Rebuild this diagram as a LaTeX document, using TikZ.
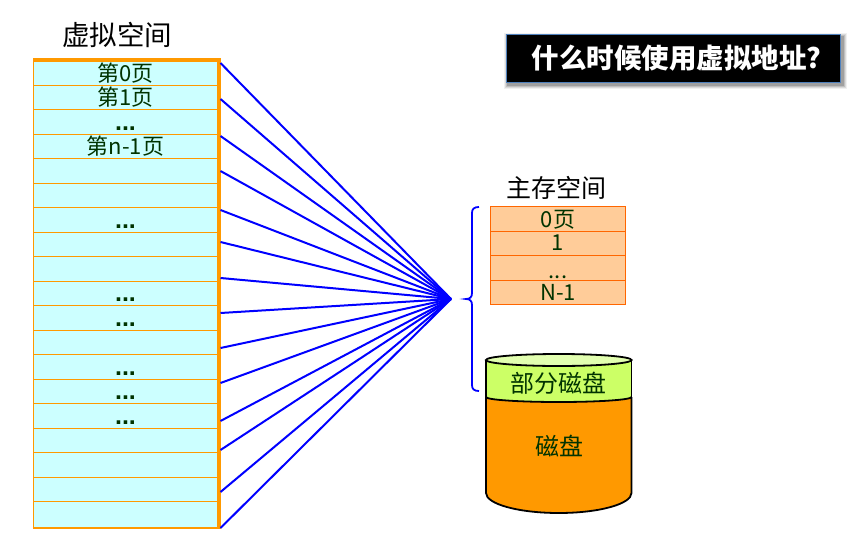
\documentclass[tikz,border=0pt]{standalone}
\usepackage{fontspec}
\usetikzlibrary{shapes.geometric}
\setmainfont{Noto Sans CJK SC}
\newfontfamily\dotfont{Liberation Sans}
\definecolor{rowfill}{HTML}{CCFFFF}
\definecolor{rowline}{HTML}{FF9900}
\definecolor{memfill}{HTML}{FFCC99}
\definecolor{memline}{HTML}{FF6600}
\definecolor{txtgreen}{HTML}{003300}
\definecolor{diskgreen}{HTML}{CCFF66}
\definecolor{disktopc}{HTML}{E2FFB0}
\definecolor{bannerline}{HTML}{4F81BD}
\tikzset{
  vrow/.style={draw=rowline,fill=rowfill,line width=1pt,inner sep=0pt},
  mrow/.style={draw=memline,fill=memfill,line width=1pt,inner sep=0pt},
  lab/.style={inner sep=0pt,text=txtgreen,font=\fontsize{22}{22}\selectfont},
  head/.style={inner sep=0pt,text=black,font=\fontsize{25}{25}\selectfont},
  dotlab/.style={inner sep=0pt,text=txtgreen,font=\dotfont\bfseries\fontsize{25}{25}\selectfont},
  link/.style={blue,line width=2pt},
  diskline/.style={black,line width=1.8pt}
}
\begin{document}
\begin{tikzpicture}[x=1pt,y=-1pt]
\useasboundingbox (0,0) rectangle (860,546);
% virtual space rows
\foreach \n/\a/\b in {1/60/85,2/85/109,3/109/134,4/134/158,5/158/183,6/183/207,7/207/232,8/232/256,9/256/281,10/281/305,11/305/330,12/330/354,13/354/379,14/379/403,15/403/428,16/428/452,17/452/477,18/477/501,19/501/527}{
  \path[vrow] (33.5,\a) rectangle (219,\b);
}
\node[draw=none,inner sep=0pt,minimum width=186pt,minimum height=467pt] (vspace) at (126,293.5) {};
\draw[rowline,line width=3.4pt] (33,60) -- (219,60);
\draw[rowline,line width=3.4pt] (219,58.3) -- (219,528.5);
\draw[rowline,line width=2pt] (32.5,527.5) -- (219,527.5);
\draw[rowline,line width=1.4pt] (33.5,60) -- (33.5,527);
\node[head,font=\fontsize{27.5}{27.5}\selectfont] (vtitle) at (117,35) {虚拟空间};
\node[lab] (v0) at (125.5,73) {第0页};
\node[lab] (v1) at (125.5,97) {第1页};
\node[lab] (vn) at (125.5,146.5) {第n-1页};
\foreach \n/\y in {a/118,b/216,c/289.5,d/314,e/363,f/387.5,g/412}{
  \node[dotlab,anchor=base] (dot\n) at (125.5,\y+12) {...};
}
% hub and connectors
\coordinate (hub) at (451,299);
\foreach \n/\y in {1/63,2/99,3/136,4/171,5/210,6/242,7/278,8/313,9/348,10/383,11/421,12/450,13/492,14/528}{
  \coordinate (s\n) at (220.5,\y);
  \draw[link] (s\n) -- (hub);
}
% main memory
\node[head] (mtitle) at (556,188) {主存空间};
\node[mrow,minimum width=135pt,minimum height=25pt] (m0) at (558,218.5) {};
\node[mrow,minimum width=135pt,minimum height=24pt] (m1) at (558,243) {};
\node[mrow,minimum width=135pt,minimum height=25pt] (m2) at (558,267.5) {};
\node[mrow,minimum width=135pt,minimum height=24pt] (m3) at (558,292) {};
\node[lab] at (558,219.5) {0页};
\node[lab] at (m1) {1};
\node[lab,anchor=base] at (558,278) {...};
\node[lab] at (m3) {N-1};
% brace
\coordinate (bt) at (479,207);
\coordinate (bb) at (479,391);
\coordinate (btip) at (466,299);
\draw[blue,line width=1.8pt] (bt) .. controls (474,207) and (472,209) .. (472,213) -- (472,293) .. controls (472,297) and (470,299) .. (btip) .. controls (470,299) and (472,301) .. (472,305) -- (472,385) .. controls (472,389) and (474,391) .. (bb);
% disk
\path[fill=rowline] (486,397) -- (486,493) arc[start angle=180,end angle=0,x radius=72.75,y radius=20] -- (631.5,397) arc[start angle=0,end angle=180,x radius=72.75,y radius=5] -- cycle;
\draw[diskline] (486,397) -- (486,493) arc[start angle=180,end angle=0,x radius=72.75,y radius=20] -- (631.5,397);
\path[fill=diskgreen] (486,360) -- (486,397) arc[start angle=180,end angle=0,x radius=72.75,y radius=5] -- (631.5,360) -- cycle;
\draw[diskline] (486,360) -- (486,397);
\draw[diskline] (631.5,360) -- (631.5,397);
\draw[diskline] (486,397) arc[start angle=180,end angle=0,x radius=72.75,y radius=5];
\node[draw=black,fill=disktopc,line width=1.8pt,ellipse,minimum width=145.5pt,minimum height=12pt,inner sep=0pt] (disktop) at (558.75,360) {};
\node[lab,font=\fontsize{24}{24}\selectfont] (part) at (558.5,383) {部分磁盘};
\node[lab,font=\fontsize{24}{24}\selectfont] (disk) at (559,446.5) {磁盘};
% banner
\foreach \o/\g in {0.06/4,0.09/3,0.12/2,0.16/1}{
  \fill[black,opacity=\o] (508-\g,37-\g) rectangle (843+\g,85+\g);
}
\node[draw=bannerline,fill=black,line width=1pt,minimum width=334pt,minimum height=48pt,inner sep=0pt] (banner) at (673.5,58) {};
\node[text=white,inner sep=0pt,font=\fontsize{27.5}{27.5}\selectfont\bfseries] (btitle) at (676.5,58.5) {什么时候使用虚拟地址?};
\end{tikzpicture}
\end{document}
